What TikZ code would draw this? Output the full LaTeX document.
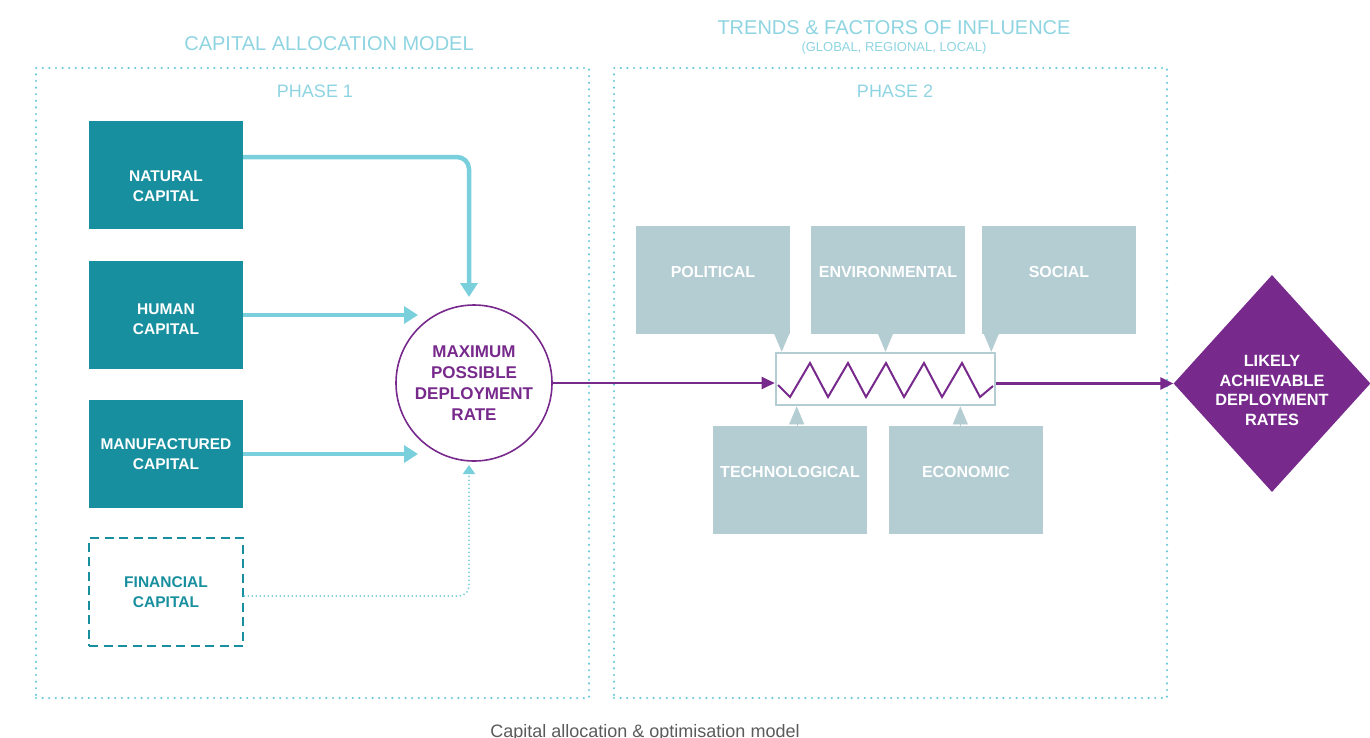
\documentclass[tikz,border=0pt]{standalone}
\usepackage{fontspec}
\setmainfont{Liberation Sans}
\usetikzlibrary{arrows.meta,shapes.geometric}

\definecolor{capteal}{HTML}{188F9E}
\definecolor{flowcyan}{HTML}{7ACFDC}
\definecolor{framecyan}{HTML}{6CC9D8}
\definecolor{headcyan}{HTML}{8ED4E1}
\definecolor{factorgrey}{HTML}{B4CDD3}
\definecolor{deeppurple}{HTML}{772A8C}
\definecolor{captiongrey}{HTML}{5A5A5A}

% strut that pushes a centred label down
\newcommand{\drop}[1]{\rule{0pt}{#1}}

\begin{document}
\begin{tikzpicture}
    [x=1pt,y=-1pt,
     frame/.style={draw=framecyan,line width=2.4pt,line cap=round,dash pattern=on 0pt off 6.6pt,
       minimum width=553pt,minimum height=630pt,inner sep=0pt},
     head/.style={text=headcyan,font=\fontsize{20}{24}\selectfont,anchor=base},
     phase/.style={text=headcyan,font=\fontsize{18}{22}\selectfont,anchor=base},
     capbox/.style={fill=capteal,text=white,font=\bfseries\fontsize{15.5}{20}\selectfont,align=center,
       minimum width=154pt,minimum height=108pt,inner sep=0pt},
     flow/.style={draw=flowcyan,line width=4.5pt,-{Triangle[length=14pt,width=17pt]},rounded corners=12pt},
     faint/.style={draw=flowcyan,line width=2pt,line cap=round,dash pattern=on 0pt off 4pt,
       -{Triangle[length=9pt,width=12pt]},rounded corners=10pt},
     drive/.style={draw=deeppurple,line width=2.2pt,-{Triangle[length=13pt,width=12pt]}},
     factor/.style={fill=factorgrey,text=white,font=\bfseries\fontsize{16}{20}\selectfont,
       minimum width=154pt,minimum height=108pt,text height=12pt,text depth=16.6pt,inner sep=0pt},
     pointer/.style={draw=factorgrey,line width=0.4pt,-{Triangle[length=18pt,width=15pt]}}]
    \useasboundingbox (0,0) rectangle (1370,737);

    % headings and the two phase frames
    \node [head] (cam) at (329,50.5) {CAPITAL ALLOCATION MODEL};
    \node [head] (tfi) at (894,34) {TRENDS \& FACTORS OF INFLUENCE};
    \node [head,font=\fontsize{13}{16}\selectfont] (scope) at (894,51) {(GLOBAL, REGIONAL, LOCAL)};
    \node [frame] (phaseone) at (312.5,383) {};
    \node [frame] (phasetwo) at (890.5,383) {};
    \node [phase] (p1) at (315,97) {PHASE 1};
    \node [phase] (p2) at (895,97) {PHASE 2};

    % phase 1: capitals feeding the deployment rate
    \node [shape=circle,draw=deeppurple,line width=1.6pt,minimum size=156pt,inner sep=0pt,
      text=deeppurple,font=\bfseries\fontsize{17}{21}\selectfont,align=center]
      (mpdr) at (474,383) {MAXIMUM\\POSSIBLE\\DEPLOYMENT\\RATE};
    \coordinate (innat) at (469,297);
    \coordinate (inhum) at (418,315);
    \coordinate (inman) at (418,454);
    \coordinate (infin) at (469,465);
    \node [capbox] (natural) at (166,175) {\drop{33pt}NATURAL\\CAPITAL};
    \node [capbox] (human) at (166,315) {\drop{19pt}HUMAN\\CAPITAL};
    \node [capbox] (manufactured) at (166,454) {MANUFACTURED\\CAPITAL};
    \node [capbox,fill=white,draw=capteal,line width=2.6pt,dash pattern=on 9pt off 5.5pt,text=capteal]
      (financial) at (166,592) {FINANCIAL\\CAPITAL};
    \draw [flow] ([yshift=18pt]natural.east) -| (innat);
    \draw [flow] (human.east) -- (inhum);
    \draw [flow] (manufactured.east) -- (inman);
    \draw [faint] ([yshift=-4pt]financial.east) -| (infin);

    % phase 2: factors acting on the spring
    \node [draw=factorgrey,line width=2.6pt,fill=white,minimum width=219pt,minimum height=52pt,inner sep=0pt]
      (zig) at (885.5,379) {};
    \draw [deeppurple,line width=2pt] (778,385) -- (790,397)
      \foreach \k in {0,...,4} { -- ({810+38*\k},363) -- ({828+38*\k},397) } -- (993,386);
    \node [factor] (political) at (713,280) {POLITICAL};
    \node [factor] (environmental) at (888,280) {ENVIRONMENTAL};
    \node [factor] (social) at (1059,280) {SOCIAL};
    \node [factor] (technological) at (790,480) {TECHNOLOGICAL};
    \node [factor] (economic) at (966,480) {ECONOMIC};
    \draw [pointer] ([xshift=7pt]zig.north west |- political.south) -- ([xshift=7pt]zig.north west);
    \draw [pointer] (zig.north |- environmental.south) -- (zig.north);
    \draw [pointer] ([xshift=-5pt]zig.north east |- social.south) -- ([xshift=-5pt]zig.north east);
    \draw [pointer] ([xshift=22pt]zig.south west |- technological.north) -- ([xshift=22pt]zig.south west);
    \draw [pointer] ([xshift=-36pt]zig.south east |- economic.north) -- ([xshift=-36pt]zig.south east);

    \node [shape=diamond,fill=deeppurple,text=white,minimum width=195pt,minimum height=217pt,inner sep=0pt,
      font=\bfseries\fontsize{16.3}{19.5}\selectfont,align=center]
      (likely) at (1272,383.5) {\drop{25pt}LIKELY\\ACHIEVABLE\\DEPLOYMENT\\RATES};
    \draw [drive] (mpdr.east) -- (mpdr.east -| zig.west);
    \draw [drive] (zig.east |- likely) -- (likely.west);

    \node [font=\fontsize{18}{22}\selectfont,text=captiongrey,anchor=base]
      (caption) at (645,737.5) {Capital allocation \& optimisation model};
  \end{tikzpicture}
\end{document}
